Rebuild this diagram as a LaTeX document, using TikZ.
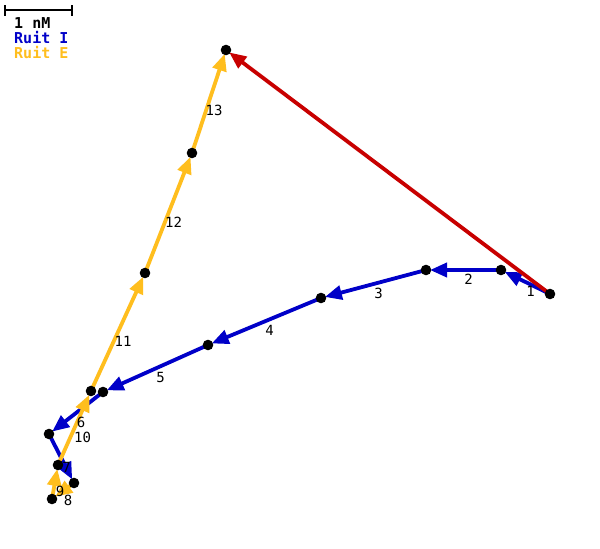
\documentclass[tikz,border=0pt]{standalone}
\usepackage{fontspec}
\newfontfamily\monofont{DejaVu Sans Mono}
\usetikzlibrary{arrows.meta}
\definecolor{ruitI}{RGB}{0,0,200}
\definecolor{ruitE}{RGB}{255,190,30}
\definecolor{resred}{RGB}{200,0,0}
\tikzset{
  vec/.style={line width=3.8pt,-{Triangle[length=17pt,width=14pt]},shorten >=4pt},
  bluevec/.style={vec,draw=ruitI,color=ruitI},
  orangevec/.style={vec,draw=ruitE,color=ruitE},
  redvec/.style={vec,draw=resred,color=resred},
  lbl/.style={font=\monofont\fontsize{14}{14}\selectfont,text=black,inner sep=0pt,shift={(5,9)}},
  legend/.style={font=\monofont\bfseries\fontsize{15}{15}\selectfont,inner sep=0pt,anchor=west},
  dot/.style={fill=black}
}
\begin{document}
\begin{tikzpicture}[x=1pt,y=-1pt]
\useasboundingbox (0,0) rectangle (600,549);
\fill[white] (0,0) rectangle (600,549);
% points
\coordinate (p0) at (550,294);
\coordinate (p1) at (501,270);
\coordinate (p2) at (426,270);
\coordinate (p3) at (321,298);
\coordinate (p4) at (208,345);
\coordinate (p5) at (103,392);
\coordinate (p6) at (49,434);
\coordinate (p7) at (74,483);
\coordinate (p8) at (52,499);
\coordinate (p9) at (58,465);
\coordinate (p10) at (91,391);
\coordinate (p11) at (145,273);
\coordinate (p12) at (192,153);
\coordinate (p13) at (226,50);
% Ruit I
\draw[bluevec] (p0) -- (p1);
\draw[bluevec] (p1) -- (p2);
\draw[bluevec] (p2) -- (p3);
\draw[bluevec] (p3) -- (p4);
\draw[bluevec] (p4) -- (p5);
\draw[bluevec] (p5) -- (p6);
\draw[bluevec] (p6) -- (p7);
% Ruit E
\draw[orangevec] (p7) -- (p8);
\draw[orangevec] (p8) -- (p9);
\draw[orangevec] (p9) -- (p10);
\draw[orangevec] (p10) -- (p11);
\draw[orangevec] (p11) -- (p12);
\draw[orangevec] (p12) -- (p13);
% resultant
\draw[redvec] (p0) -- (p13);
% dots
\foreach \p in {p0,p1,p2,p3,p4,p5,p6,p7,p8,p9,p10,p11,p12,p13}
  \fill[dot] (\p) circle (5.3pt);
% labels
\path (p0) -- (p1) node[lbl,midway] {1};
\path (p1) -- (p2) node[lbl,midway] {2};
\path (p2) -- (p3) node[lbl,midway] {3};
\path (p3) -- (p4) node[lbl,midway] {4};
\path (p4) -- (p5) node[lbl,midway] {5};
\path (p5) -- (p6) node[lbl,midway] {6};
\path (p6) -- (p7) node[lbl,midway] {7};
\path (p7) -- (p8) node[lbl,midway] {8};
\path (p8) -- (p9) node[lbl,midway] {9};
\path (p9) -- (p10) node[lbl,midway,xshift=3pt] {10};
\path (p10) -- (p11) node[lbl,midway] {11};
\path (p11) -- (p12) node[lbl,midway] {12};
\path (p12) -- (p13) node[lbl,midway] {13};
% legend
\coordinate (sb1) at (5,10);
\coordinate (sb2) at (72,10);
\draw[line width=2.8pt] (sb1) -- (sb2);
\draw[line width=2.8pt] ([yshift=-5.5pt]sb1) -- ([yshift=5.5pt]sb1);
\draw[line width=2.8pt] ([yshift=-5.5pt]sb2) -- ([yshift=5.5pt]sb2);
\node[legend,text=black] (l1) at (14,23) {1 nM};
\node[legend,text=ruitI] (l2) at (14,38) {Ruit I};
\node[legend,text=ruitE] (l3) at (14,53) {Ruit E};
\end{tikzpicture}
\end{document}
